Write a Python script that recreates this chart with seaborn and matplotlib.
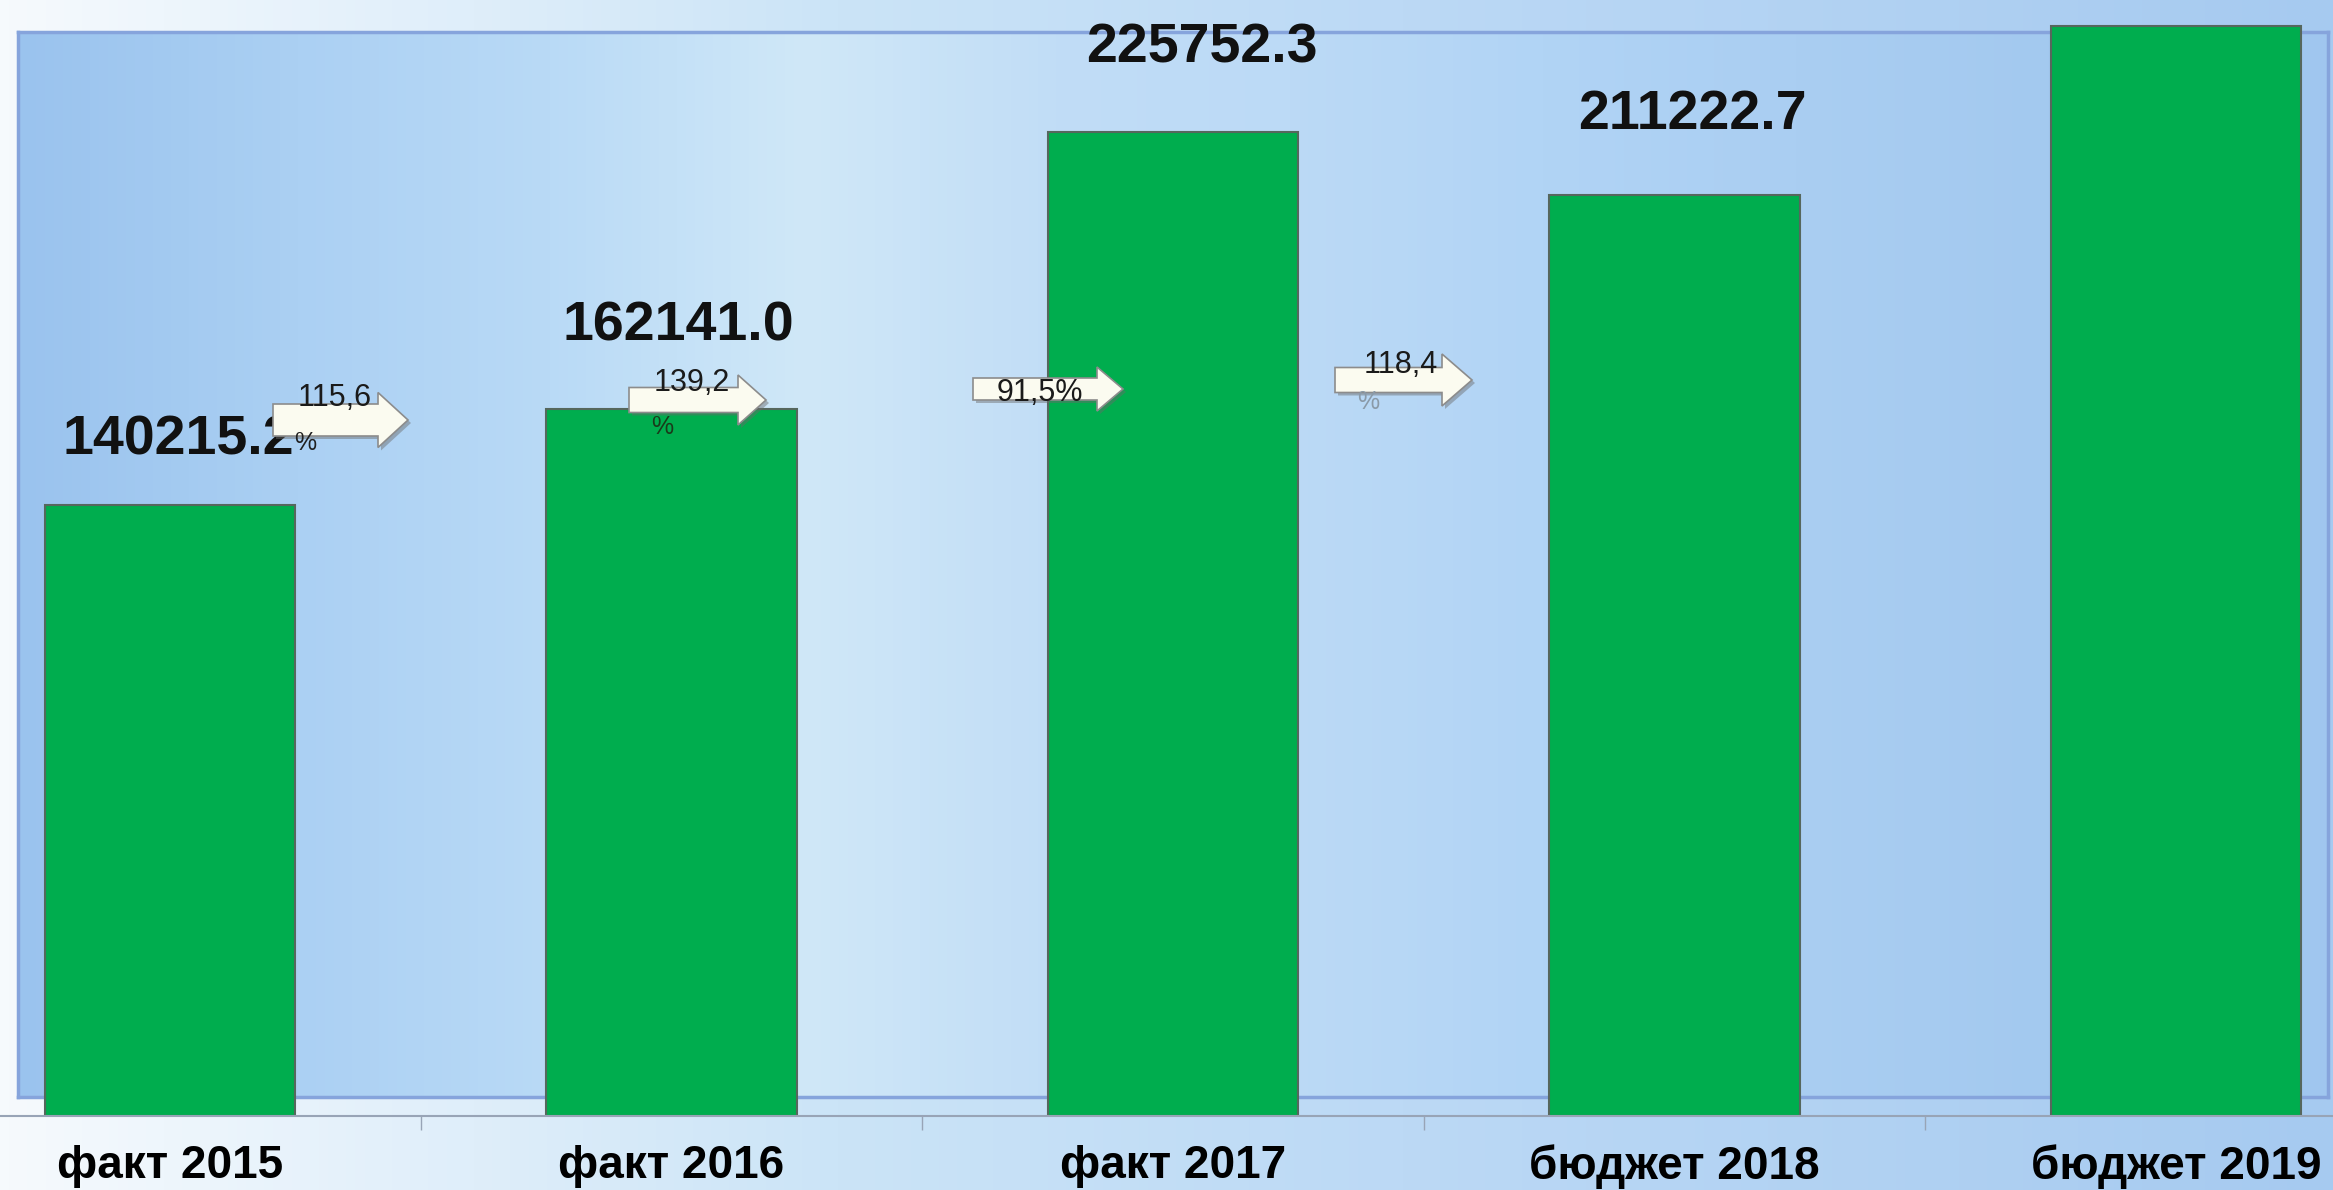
import numpy as np
import pandas as pd
import matplotlib
matplotlib.use("Agg")
import matplotlib.pyplot as plt
import seaborn as sns
from matplotlib.colors import LinearSegmentedColormap
from matplotlib.patches import Polygon
from matplotlib.transforms import IdentityTransform

# ---------------- data ----------------
categories = ["факт 2015", "факт 2016", "факт 2017", "бюджет 2018", "бюджет 2019"]
values = [140215.2, 162141.0, 225752.3, 211222.7, 250088.0]
# the 2019 label lies above the visible area in the reference
value_labels = ["140215.2", "162141.0", "225752.3", "211222.7"]
growth_top = ["115,6", "139,2", "91,5%", "118,4"]
growth_bottom = ["%", "%", "", "%"]

# ---------------- layout ----------------
W, H, DPI = 2333, 1190, 100
label_dx = [8, 7, 29, 18]        # px offsets of value labels
label_dy = [50, 69, 69, 66]
# arrow layout (image px): x0, x1, y-centre, body h, head h, head len
arrows = [(273, 408, 420, 32, 55, 30),
          (629, 766, 400, 25, 50, 28),
          (973, 1123, 389, 22, 44, 26),
          (1335, 1472, 380, 25, 52, 30)]
top_pos = [(335, 398), (692, 383), (1040, 393), (1401, 365)]
bot_pos = [(305, 443), (662, 427), None, (1368, 402)]
bot_col = ["#202020", "#1a3a1a", "#202020", "#8a9aa8"]

sns.set_theme(style="white")
plt.rcParams["font.family"] = ["Liberation Sans", "DejaVu Sans"]

fig = plt.figure(figsize=(W / DPI, H / DPI), dpi=DPI)

# outer background gradient
bg = fig.add_axes([0, 0, 1, 1], zorder=0)
bg_cmap = LinearSegmentedColormap.from_list(
    "bg", [(0, "#f6fafd"), (0.2, "#dfeefa"), (0.36, "#cbe4f7"),
           (0.6, "#bcd9f5"), (1, "#a6caf0")])
bg.imshow(np.linspace(0, 1, 512)[None, :], aspect="auto", cmap=bg_cmap,
          extent=[0, 1, 0, 1])
bg.set_axis_off()

# inner plot-area rectangle with its own gradient
def frac_rect(x0, y0, x1, y1):
    return [x0 / W, 1 - y1 / H, (x1 - x0) / W, (y1 - y0) / H]

inner = fig.add_axes(frac_rect(18, 32, 2328, 1097), zorder=1)
in_cmap = LinearSegmentedColormap.from_list(
    "inner", [(0, "#9ac3ee"), (0.12, "#abd0f3"), (0.23, "#b9daf6"),
              (0.34, "#d0e8f8"), (0.45, "#c1ddf6"), (0.55, "#bcdaf6"),
              (0.66, "#b1d4f5"), (0.77, "#aacef2"), (0.88, "#a3c9ef"),
              (1, "#a0c6ef")])
inner.imshow(np.linspace(0, 1, 512)[None, :], aspect="auto", cmap=in_cmap,
             extent=[0, 1, 0, 1])
inner.set_xticks([])
inner.set_yticks([])
for s in inner.spines.values():
    s.set_color("#86a4dc")
    s.set_linewidth(2.5)

# main axes
ax = fig.add_axes([-80.75 / W, 74 / H, 2507.5 / W, 1116 / H], zorder=2)
ax.patch.set_alpha(0)
df = pd.DataFrame({"cat": categories, "val": values})
sns.barplot(data=df, x="cat", y="val", color="#00ad4e", saturation=1,
            width=0.5, edgecolor="#56675d", linewidth=1.5, ax=ax)
ax.set_xlim(-0.5, 4.5)
ax.set_ylim(0, 256000)
ax.set_xlabel("")
ax.set_ylabel("")
ax.set_yticks([])
for side in ["top", "left", "right"]:
    ax.spines[side].set_visible(False)
ax.spines["bottom"].set_color("#98a4b6")
ax.spines["bottom"].set_linewidth(1.5)
ax.set_xticks(np.arange(len(categories)), categories)
ax.set_xticks(np.arange(len(categories) - 1) + 0.5, minor=True)
ax.tick_params(axis="x", which="major", length=0, pad=20, labelsize=33,
               labelcolor="#000000")
for t in ax.get_xticklabels():
    t.set_fontweight("bold")
ax.tick_params(axis="x", which="minor", bottom=True, length=10, width=1,
               color="#98a4b6")

for i, lab in enumerate(value_labels):
    ax.annotate(lab, (i, values[i]), xytext=(label_dx[i], label_dy[i]),
                textcoords="offset pixels", ha="center", va="baseline",
                fontsize=40, fontweight="bold", color="#111111")

# growth arrows
ident = IdentityTransform()
for k, (x0, x1, yc, bh, hh, hl) in enumerate(arrows):
    pts = [(x0, yc - bh / 2), (x1 - hl, yc - bh / 2), (x1 - hl, yc - hh / 2),
           (x1, yc), (x1 - hl, yc + hh / 2), (x1 - hl, yc + bh / 2),
           (x0, yc + bh / 2)]
    shadow = [(x + 3, H - (y + 3)) for x, y in pts]
    body = [(x, H - y) for x, y in pts]
    fig.add_artist(Polygon(shadow, closed=True, transform=ident,
                           facecolor="#6a6a6a", alpha=0.45, edgecolor="none",
                           zorder=5))
    fig.add_artist(Polygon(body, closed=True, transform=ident,
                           facecolor="#fbfbf0", edgecolor="#8c8c8c",
                           linewidth=1.2, zorder=6))
    tx, ty = top_pos[k]
    fig.text(tx, H - ty, growth_top[k], transform=ident, ha="center",
             va="center", fontsize=22, color="#1a1a1a", zorder=7)
    if bot_pos[k] is not None and growth_bottom[k]:
        bx, by = bot_pos[k]
        fig.text(bx, H - by, growth_bottom[k], transform=ident, ha="center",
                 va="center", fontsize=18, color=bot_col[k], zorder=7)

fig.savefig("out.png", dpi=DPI)
